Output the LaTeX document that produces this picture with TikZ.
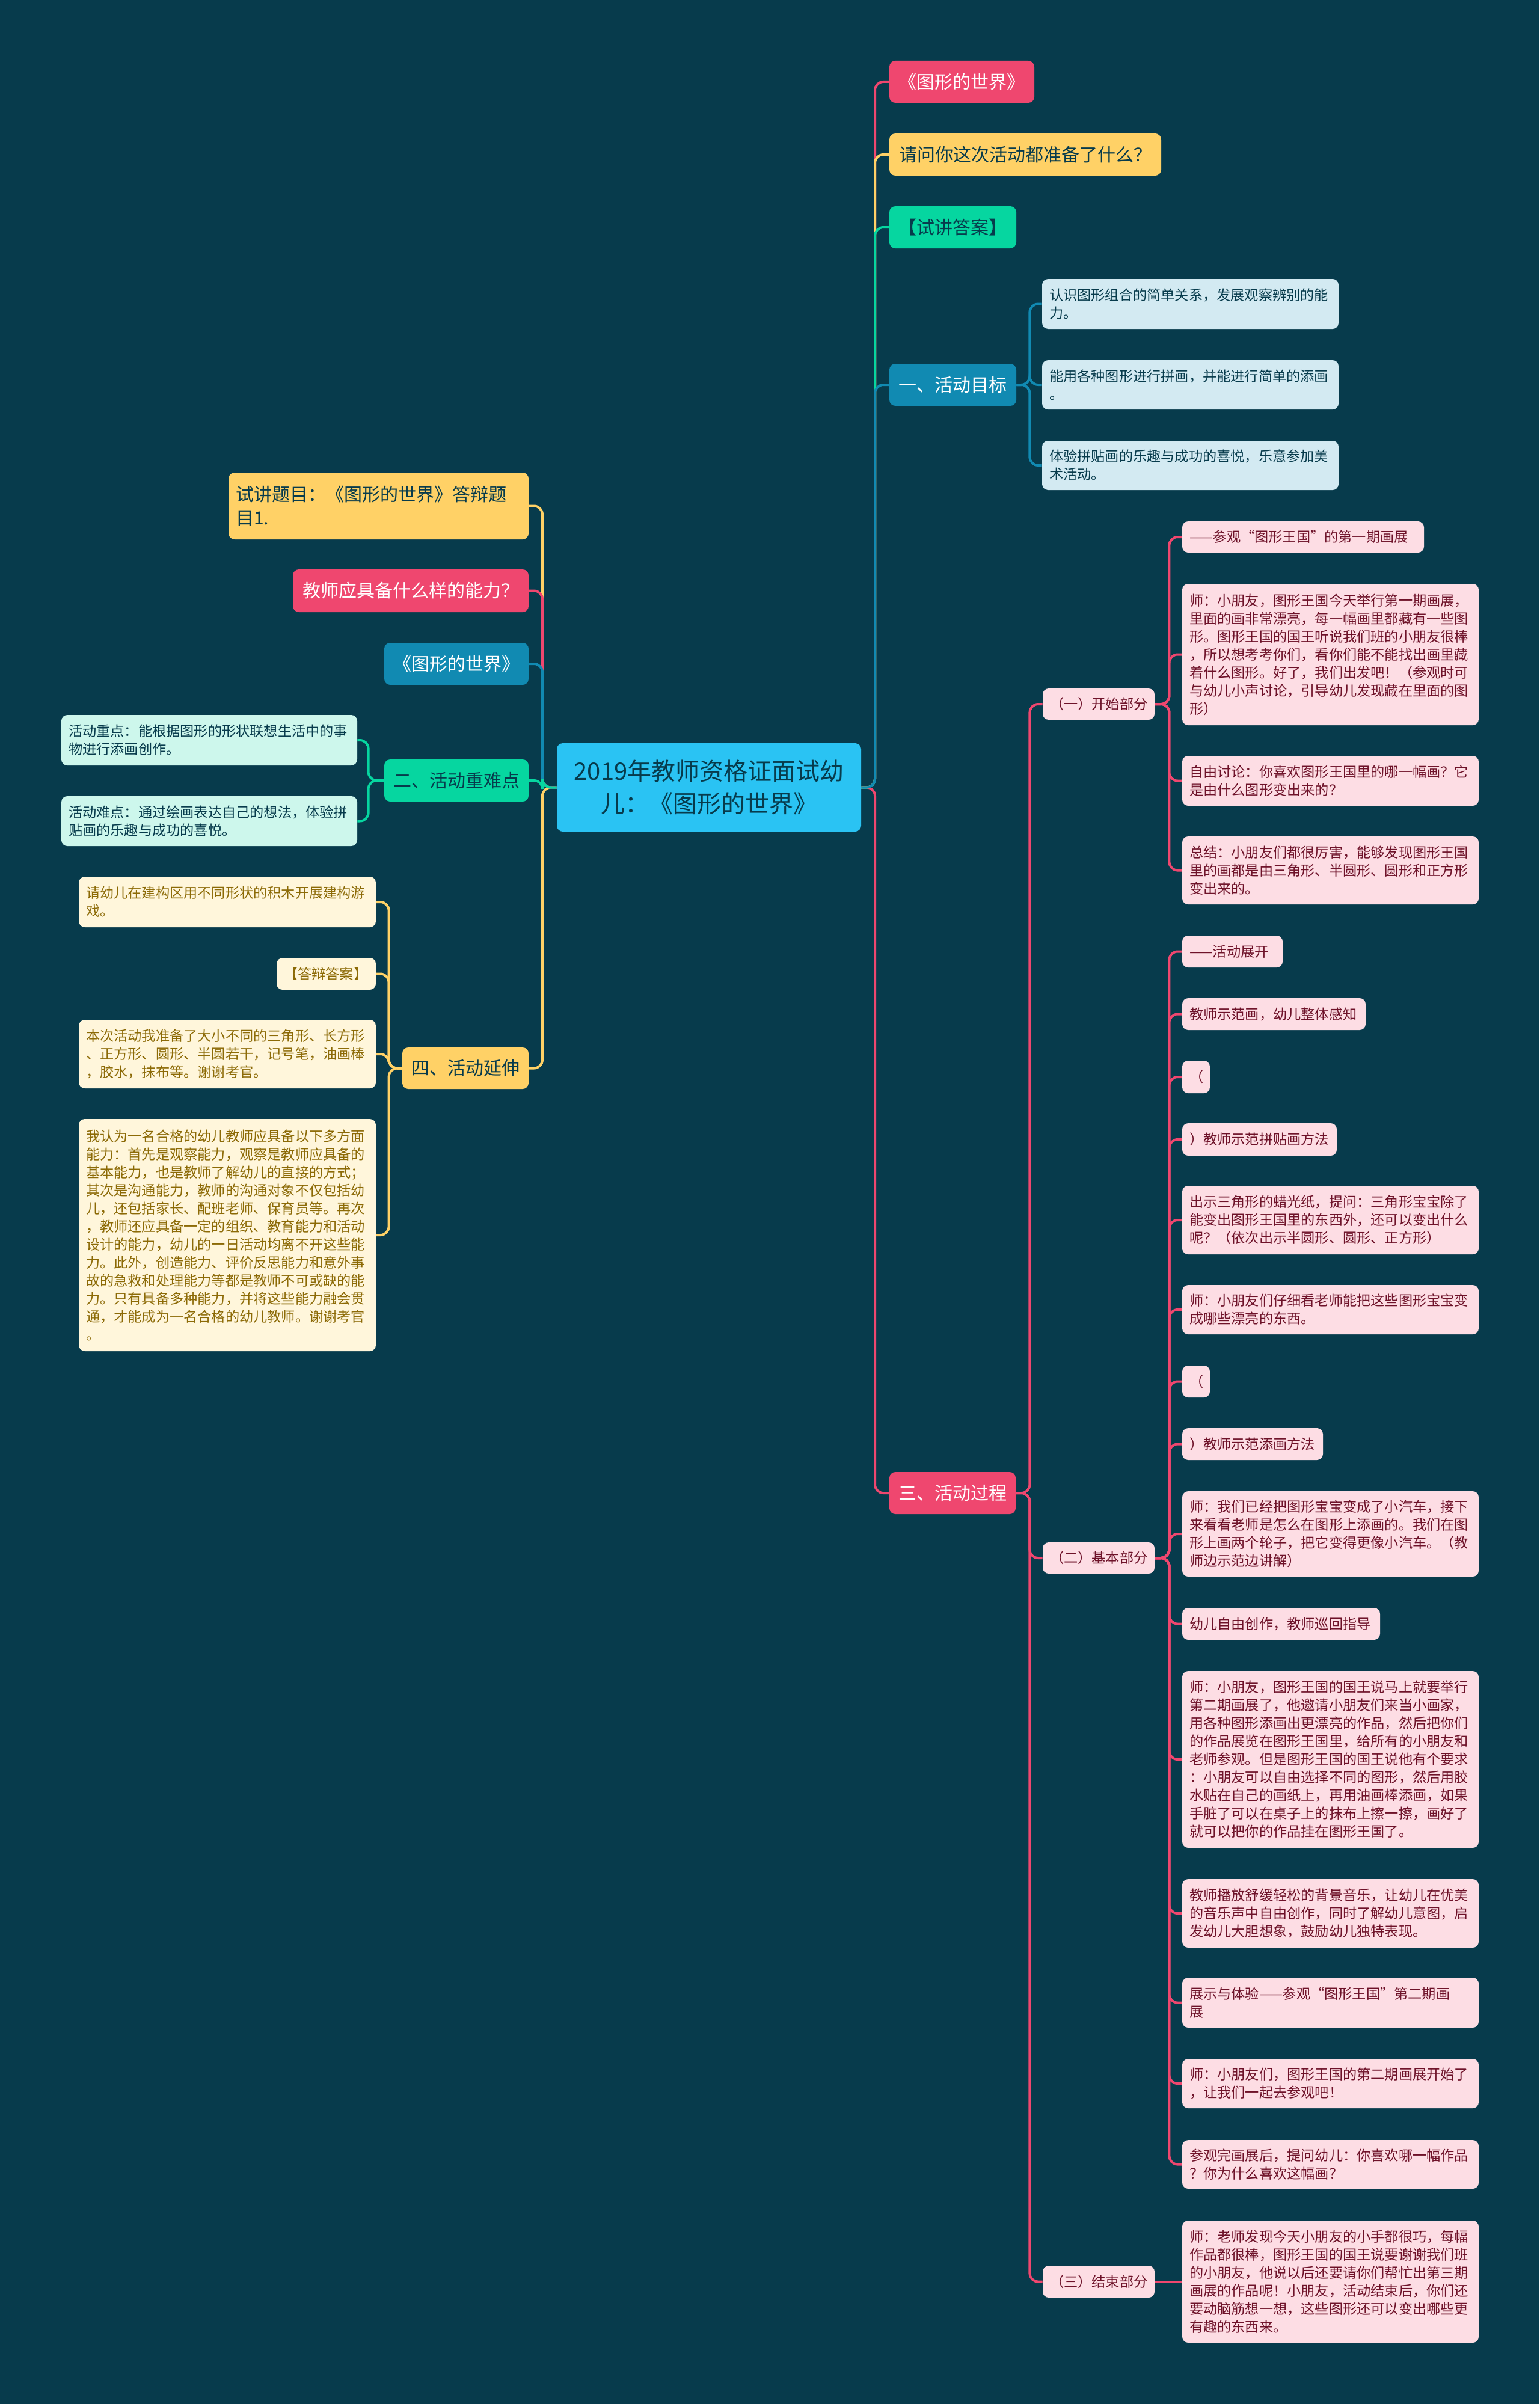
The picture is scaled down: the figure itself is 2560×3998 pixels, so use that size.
\documentclass[tikz,border=0pt]{standalone}
\usepackage{fontspec}
\setmainfont{Noto Sans CJK SC}
\definecolor{bg}{HTML}{073B4C}
\definecolor{cpink}{HTML}{EF476F}
\definecolor{cyel}{HTML}{FFD166}
\definecolor{cgreen}{HTML}{06D6A0}
\definecolor{cblue}{HTML}{118AB2}
\definecolor{ccenter}{HTML}{2AC3F3}
\definecolor{lpinkf}{HTML}{FDDDE4}
\definecolor{lbluef}{HTML}{D3EAF2}
\definecolor{lgreenf}{HTML}{CDF7EC}
\definecolor{lyelf}{HTML}{FFF6DB}
\definecolor{tpink}{HTML}{6E1229}
\definecolor{tyel}{HTML}{8C6A06}
\definecolor{tdark}{HTML}{073B4C}
\tikzset{
  box/.style={rounded corners=5pt, inner ysep=2pt, inner xsep=6pt, draw=none},
  top/.style={box, font=\fontsize{15pt}{19.5pt}\selectfont, align=center},
  topl/.style={box, font=\fontsize{15pt}{19.5pt}\selectfont, align=left},
  leaf/.style={box, font=\fontsize{11.6pt}{15pt}\selectfont, align=left},
  subb/.style={box, font=\fontsize{11.6pt}{15pt}\selectfont, align=center, fill=lpinkf, text=tpink},
  pleaf/.style={leaf, fill=lpinkf, text=tpink},
  bleaf/.style={leaf, fill=lbluef, text=tdark},
  gleaf/.style={leaf, fill=lgreenf, text=tdark},
  yleaf/.style={leaf, fill=lyelf, text=tyel},
  conn/.style={line width=2pt, rounded corners=7pt},
}
\newcommand\mmbox[7]{%
  \pgfmathsetmacro\bxw{(#5-#3)*0.5}%
  \pgfmathsetmacro\bxh{(#6-#4)*0.5}%
  \pgfmathsetmacro\bxt{(#5-#3)*0.5-12}%
  \node[#2, minimum width=\bxw pt, minimum height=\bxh pt, text width=\bxt pt] (#1) at ({(#3+#5)/2},{(#4+#6)/2}) {#7};}
\begin{document}
\begin{tikzpicture}[x=0.5pt,y=-0.5pt]
\fill[bg] (0,0) rectangle (2560,3998);
\useasboundingbox (0,0) rectangle (2560,3998);

% center
\mmbox{C}{box, fill=ccenter, text=tdark, align=center, font=\fontsize{20pt}{27pt}\selectfont}{926}{1236}{1432}{1383}{2019年教师资格证面试幼\\儿：《图形的世界》}

% right top-level
\mmbox{A1}{top, fill=cpink, text=white}{1479}{101}{1720}{171}{《图形的世界》}
\mmbox{A2}{top, fill=cyel, text=tdark}{1479}{222}{1931}{292}{请问你这次活动都准备了什么？}
\mmbox{A3}{top, fill=cgreen, text=tdark}{1479}{343}{1690}{413}{【试讲答案】}
\mmbox{A4}{top, fill=cblue, text=white}{1479}{605}{1690}{675}{一、活动目标}
\mmbox{A5}{top, fill=cpink, text=white}{1479}{2448}{1689}{2518}{三、活动过程}

\mmbox{G1}{bleaf}{1733}{464}{2226}{547}{认识图形组合的简单关系，发展观察辨别的能\\力。}
\mmbox{G2}{bleaf}{1733}{599}{2226}{681}{能用各种图形进行拼画，并能进行简单的添画\\。}
\mmbox{G3}{bleaf}{1733}{733}{2226}{815}{体验拼贴画的乐趣与成功的喜悦，乐意参加美\\术活动。}

% left top-level
\mmbox{L1}{topl, fill=cyel, text=tdark}{380}{786}{879}{897}{试讲题目：《图形的世界》答辩题\\目1.}
\mmbox{L2}{top, fill=cpink, text=white}{487}{947}{879}{1018}{教师应具备什么样的能力？}
\mmbox{L3}{top, fill=cblue, text=white}{639}{1069}{879}{1139}{《图形的世界》}
\mmbox{L4}{top, fill=cgreen, text=tdark}{639}{1263}{879}{1333}{二、活动重难点}
\mmbox{L5}{top, fill=cyel, text=tdark}{669}{1742}{879}{1811}{四、活动延伸}

\mmbox{K1}{gleaf}{102}{1189}{594}{1273}{活动重点：能根据图形的形状联想生活中的事\\物进行添画创作。}
\mmbox{K2}{gleaf}{102}{1324}{594}{1407}{活动难点：通过绘画表达自己的想法，体验拼\\贴画的乐趣与成功的喜悦。}

\mmbox{Y1}{yleaf}{131}{1458}{625}{1542}{请幼儿在建构区用不同形状的积木开展建构游\\戏。}
\mmbox{Y2}{yleaf}{460}{1593}{625}{1646}{【答辩答案】}
\mmbox{Y3}{yleaf}{131}{1696}{625}{1810}{本次活动我准备了大小不同的三角形、长方形\\、正方形、圆形、半圆若干，记号笔，油画棒\\，胶水，抹布等。谢谢考官。}
\mmbox{Y4}{yleaf}{131}{1861}{625}{2247}{我认为一名合格的幼儿教师应具备以下多方面\\能力：首先是观察能力，观察是教师应具备的\\基本能力，也是教师了解幼儿的直接的方式；\\其次是沟通能力，教师的沟通对象不仅包括幼\\儿，还包括家长、配班老师、保育员等。再次\\，教师还应具备一定的组织、教育能力和活动\\设计的能力，幼儿的一日活动均离不开这些能\\力。此外，创造能力、评价反思能力和意外事\\故的急救和处理能力等都是教师不可或缺的能\\力。只有具备多种能力，并将这些能力融会贯\\通，才能成为一名合格的幼儿教师。谢谢考官\\。}

% activity process
\mmbox{S1}{subb}{1734}{1145}{1920}{1197}{（一）开始部分}
\mmbox{S2}{subb}{1734}{2565}{1920}{2617}{（二）基本部分}
\mmbox{S3}{subb}{1734}{3768}{1920}{3821}{（三）结束部分}

\mmbox{P1}{pleaf}{1966}{867}{2368}{919}{——参观“图形王国”的第一期画展}
\mmbox{P2}{pleaf}{1966}{971}{2459}{1206}{师：小朋友，图形王国今天举行第一期画展，\\里面的画非常漂亮，每一幅画里都藏有一些图\\形。图形王国的国王听说我们班的小朋友很棒\\，所以想考考你们，看你们能不能找出画里藏\\着什么图形。好了，我们出发吧！（参观时可\\与幼儿小声讨论，引导幼儿发现藏在里面的图\\形）}
\mmbox{P3}{pleaf}{1966}{1257}{2459}{1340}{自由讨论：你喜欢图形王国里的哪一幅画？它\\是由什么图形变出来的？}
\mmbox{P4}{pleaf}{1966}{1391}{2459}{1504}{总结：小朋友们都很厉害，能够发现图形王国\\里的画都是由三角形、半圆形、圆形和正方形\\变出来的。}

\mmbox{Q1}{pleaf}{1966}{1556}{2133}{1609}{——活动展开}
\mmbox{Q2}{pleaf}{1966}{1660}{2271}{1713}{教师示范画，幼儿整体感知}
\mmbox{Q3}{pleaf}{1966}{1764}{2012}{1818}{（}
\mmbox{Q4}{pleaf}{1966}{1868}{2223}{1922}{）教师示范拼贴画方法}
\mmbox{Q5}{pleaf}{1966}{1972}{2459}{2086}{出示三角形的蜡光纸，提问：三角形宝宝除了\\能变出图形王国里的东西外，还可以变出什么\\呢？（依次出示半圆形、圆形、正方形）}
\mmbox{Q6}{pleaf}{1966}{2137}{2459}{2219}{师：小朋友们仔细看老师能把这些图形宝宝变\\成哪些漂亮的东西。}
\mmbox{Q7}{pleaf}{1966}{2271}{2012}{2324}{（}
\mmbox{Q8}{pleaf}{1966}{2375}{2200}{2428}{）教师示范添画方法}
\mmbox{Q9}{pleaf}{1966}{2480}{2459}{2622}{师：我们已经把图形宝宝变成了小汽车，接下\\来看看老师是怎么在图形上添画的。我们在图\\形上画两个轮子，把它变得更像小汽车。（教\\师边示范边讲解）}
\mmbox{Q10}{pleaf}{1966}{2674}{2295}{2727}{幼儿自由创作，教师巡回指导}
\mmbox{Q11}{pleaf}{1966}{2779}{2459}{3073}{师：小朋友，图形王国的国王说马上就要举行\\第二期画展了，他邀请小朋友们来当小画家，\\用各种图形添画出更漂亮的作品，然后把你们\\的作品展览在图形王国里，给所有的小朋友和\\老师参观。但是图形王国的国王说他有个要求\\：小朋友可以自由选择不同的图形，然后用胶\\水贴在自己的画纸上，再用油画棒添画，如果\\手脏了可以在桌子上的抹布上擦一擦，画好了\\就可以把你的作品挂在图形王国了。}
\mmbox{Q12}{pleaf}{1966}{3125}{2459}{3239}{教师播放舒缓轻松的背景音乐，让幼儿在优美\\的音乐声中自由创作，同时了解幼儿意图，启\\发幼儿大胆想象，鼓励幼儿独特表现。}
\mmbox{Q13}{pleaf}{1966}{3289}{2459}{3372}{展示与体验——参观“图形王国”第二期画\\展}
\mmbox{Q14}{pleaf}{1966}{3424}{2459}{3506}{师：小朋友们，图形王国的第二期画展开始了\\，让我们一起去参观吧！}
\mmbox{Q15}{pleaf}{1966}{3559}{2459}{3640}{参观完画展后，提问幼儿：你喜欢哪一幅作品\\？你为什么喜欢这幅画？}

\mmbox{R1}{pleaf}{1966}{3693}{2459}{3896}{师：老师发现今天小朋友的小手都很巧，每幅\\作品都很棒，图形王国的国王说要谢谢我们班\\的小朋友，他说以后还要请你们帮忙出第三期\\画展的作品呢！小朋友，活动结束后，你们还\\要动脑筋想一想，这些图形还可以变出哪些更\\有趣的东西来。}

% connectors: center to right
\coordinate (cr) at (1455,1309.5);
\coordinate (cl) at (902,1309.5);
\draw[conn, cpink] (C.east) -- (cr) |- (A5.west);
\draw[conn, cpink] (C.east) -- (cr) |- (A1.west);
\draw[conn, cyel] (C.east) -- (cr) |- (A2.west);
\draw[conn, cgreen] (C.east) -- (cr) |- (A3.west);
\draw[conn, cblue] (C.east) -- (cr) |- (A4.west);
% center to left
\draw[conn, cyel] (C.west) -- (cl) |- (L5.east);
\draw[conn, cyel] (C.west) -- (cl) |- (L1.east);
\draw[conn, cpink] (C.west) -- (cl) |- (L2.east);
\draw[conn, cblue] (C.west) -- (cl) |- (L3.east);
\draw[conn, cgreen] (C.west) -- (cl) |- (L4.east);

% goals
\foreach \g in {G1,G2,G3} \draw[conn, cblue] (A4.east) -- ++(22,0) |- (\g.west);
% difficulties
\foreach \g in {K1,K2} \draw[conn, cgreen] (L4.west) -- ++(-26,0) |- (\g.east);
% extension
\foreach \g in {Y1,Y2,Y3,Y4} \draw[conn, cyel] (L5.west) -- ++(-22,0) |- (\g.east);
% process
\foreach \g in {S1,S2,S3} \draw[conn, cpink] (A5.east) -- ++(23,0) |- (\g.west);
\foreach \g in {P1,P2,P3,P4} \draw[conn, cpink] (S1.east) -- ++(24,0) |- (\g.west);
\foreach \g in {Q1,Q2,Q3,Q4,Q5,Q6,Q7,Q8,Q9,Q10,Q11,Q12,Q13,Q14,Q15} \draw[conn, cpink] (S2.east) -- ++(24,0) |- (\g.west);
\draw[conn, cpink] (S3.east) -- (R1.west);
\end{tikzpicture}
\end{document}
